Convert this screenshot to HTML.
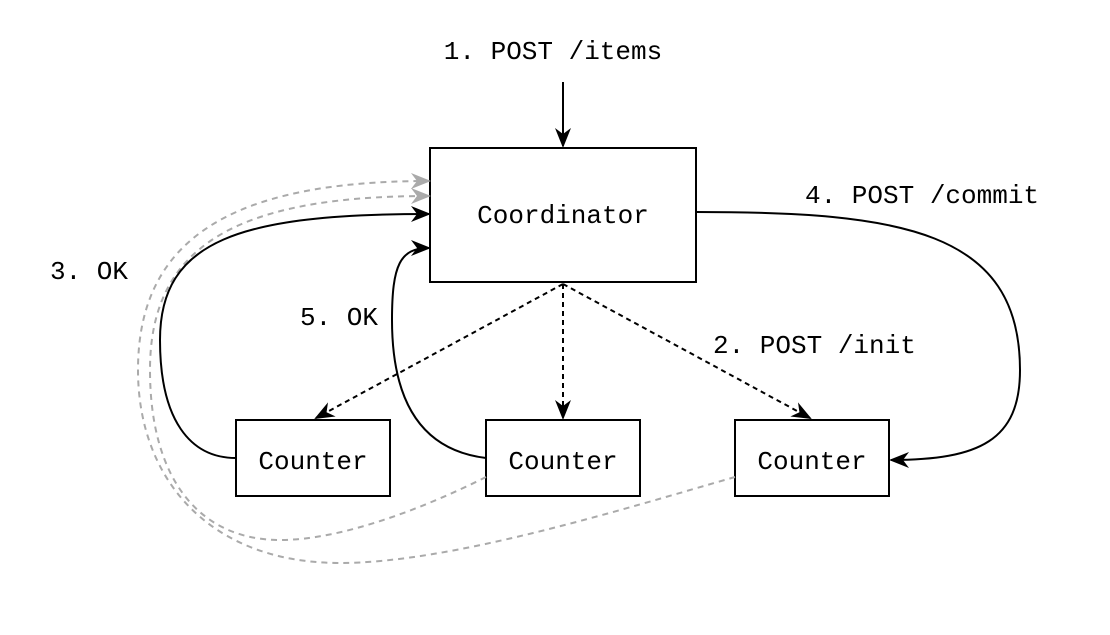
<!DOCTYPE html>
<html><head><style>
body{margin:0;background:#fff}
svg text{font-family:"Liberation Mono",monospace;font-size:26px;fill:#000}
</style></head><body>
<svg width="1110" height="630" viewBox="0 0 1110 630" xmlns="http://www.w3.org/2000/svg">
<defs>
<marker id="a" viewBox="0 0 10 10" refX="9" refY="5" markerWidth="20" markerHeight="20" orient="auto" markerUnits="userSpaceOnUse"><path d="M0,1 L10,5 L0,9 L3,5 z" fill="#000"/></marker>
<marker id="g" viewBox="0 0 10 10" refX="9" refY="5" markerWidth="20" markerHeight="20" orient="auto" markerUnits="userSpaceOnUse"><path d="M0,1 L10,5 L0,9 L3,5 z" fill="#aaa"/></marker>
</defs>
<g fill="#fff" stroke="#000" stroke-width="2">
<rect x="430" y="148" width="266" height="134"/>
<rect x="236" y="420" width="154" height="76"/>
<rect x="486" y="420" width="154" height="76"/>
<rect x="735" y="420" width="154" height="76"/>
</g>
<g fill="none" stroke="#aaa" stroke-width="2" stroke-dasharray="6,5">
<path d="M486,477 C420,510 340,540 280,540 C200,540 150,480 150,370 C150,250 230,196 429,196" marker-end="url(#g)"/>
<path d="M735,477 C620,510 450,563 340,563 C210,563 138,480 138,370 C138,240 230,181 429,181" marker-end="url(#g)"/>
</g>
<g fill="none" stroke="#000" stroke-width="2">
<line x1="563" y1="82" x2="563" y2="146" marker-end="url(#a)"/>
<path d="M236,458 C190,458 160,420 160,340 C160,240 240,214 429,214" marker-end="url(#a)"/>
<path d="M486,458 C420,450 392,400 392,320 C392,265 400,248 429,248" marker-end="url(#a)"/>
<path d="M696,212 C900,212 1020,230 1020,370 C1020,440 980,460 891,460" marker-end="url(#a)"/>
</g>
<g fill="none" stroke="#000" stroke-width="2" stroke-dasharray="5,4">
<line x1="563" y1="284" x2="316" y2="418" marker-end="url(#a)"/>
<line x1="563" y1="284" x2="563" y2="418" marker-end="url(#a)"/>
<line x1="563" y1="284" x2="810" y2="418" marker-end="url(#a)"/>
</g>
<text x="553" y="59" text-anchor="middle">1. POST /items</text>
<text x="563" y="223" text-anchor="middle">Coordinator</text>
<text x="313" y="469" text-anchor="middle">Counter</text>
<text x="563" y="469" text-anchor="middle">Counter</text>
<text x="812" y="469" text-anchor="middle">Counter</text>
<text x="805" y="203">4. POST /commit</text>
<text x="50" y="279">3. OK</text>
<text x="300" y="325">5. OK</text>
<text x="713" y="353">2. POST /init</text>
</svg>
</body></html>
